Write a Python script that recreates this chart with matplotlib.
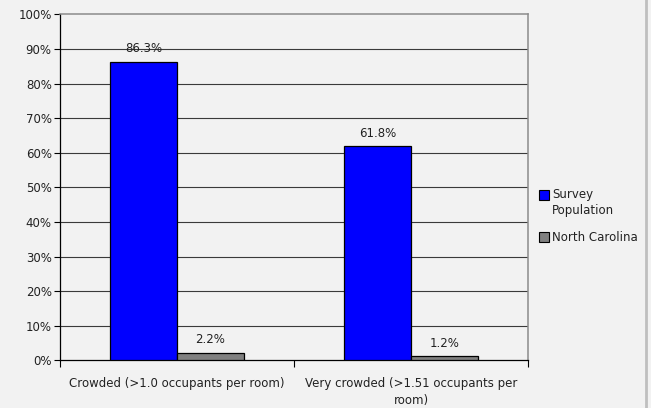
import matplotlib
matplotlib.use("Agg")
import matplotlib.pyplot as plt
from matplotlib.lines import Line2D
from matplotlib.legend_handler import HandlerLine2D
import numpy as np

categories = ["Crowded (>1.0 occupants per room)",
              "Very crowded (>1.51 occupants per\nroom)"]
series_names = ["Survey\nPopulation", "North Carolina"]
survey = [86.3, 61.8]
north_carolina = [2.2, 1.2]
colors = ["#0000FF", "#808080"]
yticks = [0, 10, 20, 30, 40, 50, 60, 70, 80, 90, 100]

bg = "#F2F2F2"
plt.rcParams["font.family"] = ["DejaVu Sans"]
fs = 8.5


class TopAlignedHandler(HandlerLine2D):
    """Places the legend swatch beside the first line of a two-line label."""

    def __init__(self, shift, **kw):
        super().__init__(**kw)
        self.shift = shift

    def create_artists(self, legend, orig_handle, xdescent, ydescent, width,
                       height, fontsize, trans):
        arts = super().create_artists(legend, orig_handle, xdescent, ydescent,
                                      width, height, fontsize, trans)
        for a in arts:
            a.set_ydata(np.asarray(a.get_ydata()) + self.shift)
        return arts


fig = plt.figure(figsize=(6.51, 4.08), dpi=100, facecolor=bg)
W, H = 651, 408
ax = fig.add_axes([60 / W, (H - 360.3) / H, (528 - 60) / W, (360.3 - 14.3) / H])
ax.set_facecolor(bg)

x = np.arange(len(categories))
bw = 0.285
for i, (vals, col) in enumerate(zip([survey, north_carolina], colors)):
    pos = x + (i - 0.5) * bw
    bars = ax.bar(pos, vals, width=bw, color=col, edgecolor="black", linewidth=0.9,
                  label=series_names[i], zorder=3)
    for b, v in zip(bars, vals):
        ax.annotate(f"{v:.1f}%", (b.get_x() + b.get_width() / 2, v),
                    xytext=(0, 4.5), textcoords="offset points",
                    ha="center", va="bottom", fontsize=fs, color="#222222", zorder=4)

ax.set_xlim(-0.5, len(categories) - 0.5)
ax.set_ylim(0, 100)
ax.set_yticks(yticks)
ax.set_yticklabels([f"{t}%" for t in yticks], fontsize=fs, color="#222222")
for t in yticks[1:-1]:
    ax.axhline(t, color="#3A3A3A", linewidth=0.8, zorder=1)

ax.set_xticks(x)
ax.set_xticklabels(categories, fontsize=fs, color="#222222", linespacing=1.45)
ax.tick_params(axis="x", length=0, pad=12)
ax.set_xticks(np.arange(len(categories) + 1) - 0.5, minor=True)
ax.tick_params(axis="x", which="minor", length=5, width=0.8, direction="out")
ax.tick_params(axis="y", length=4, width=0.8, direction="out", pad=2)

for side in ["left", "bottom"]:
    ax.spines[side].set_color("black")
    ax.spines[side].set_linewidth(0.9)
for side in ["top", "right"]:
    ax.spines[side].set_color("#8C8C8C")
    ax.spines[side].set_linewidth(1.1)

handles = [Line2D([0], [0], marker="s", linestyle="none", markersize=7,
                  markerfacecolor=c, markeredgecolor="black", markeredgewidth=0.8)
           for c in colors]
leg = fig.legend(handles, series_names, loc="center left",
                 bbox_to_anchor=(535 / W, 1 - 216 / H), frameon=False,
                 fontsize=fs, handlelength=0.8, handletextpad=0.25, labelspacing=1.2,
                 borderaxespad=0,
                 handler_map={handles[0]: TopAlignedHandler(shift=6.0)})
for txt in leg.get_texts():
    txt.set_linespacing(1.35)
    txt.set_color("#222222")

fig.add_artist(Line2D([645.5 / W, 645.5 / W], [0, 1], color="#BFBFBF",
                      linewidth=2, transform=fig.transFigure))

fig.savefig("out.png", dpi=100, facecolor=bg)
